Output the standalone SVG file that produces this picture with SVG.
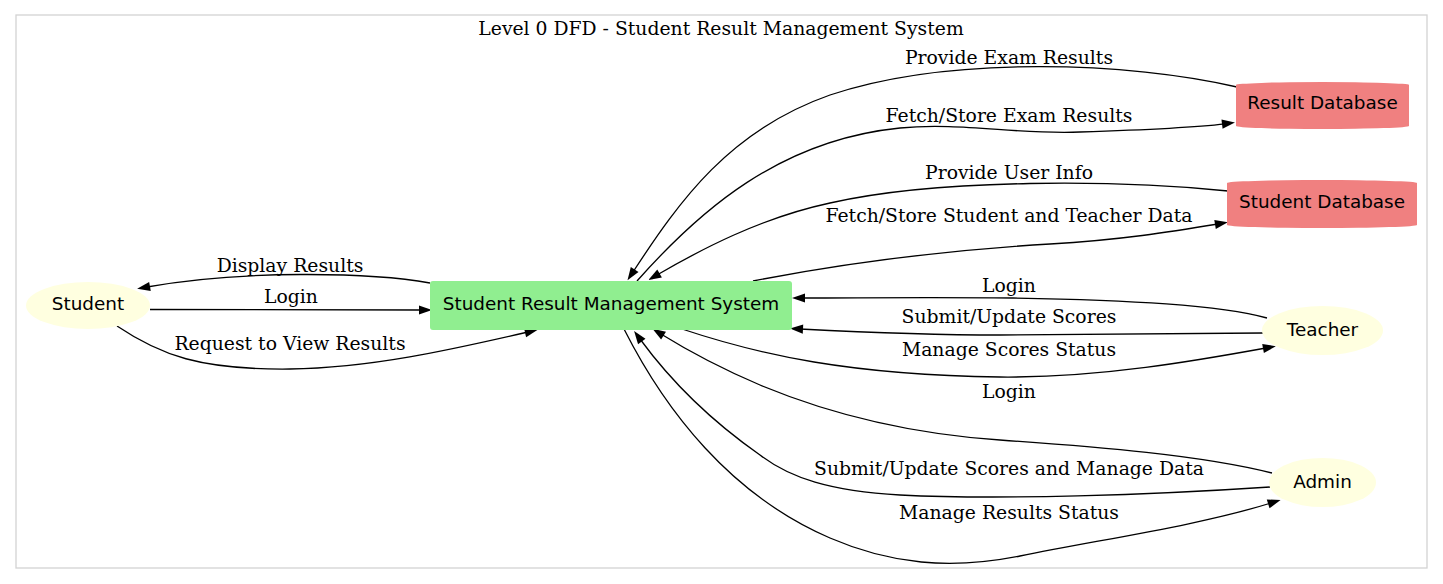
<svg xmlns="http://www.w3.org/2000/svg" width="1443" height="584" viewBox="0 0 1443 584">
<style>
.lbl{font-family:"DejaVu Serif","Liberation Serif",serif;font-size:18.8px;fill:#000;text-anchor:middle}
.ntx{font-family:"DejaVu Sans","Liberation Sans",sans-serif;font-size:18.4px;fill:#000;text-anchor:middle}
.edge{fill:none;stroke:#000;stroke-width:1.3}
.ent{fill:#ffffe0;stroke:none}
.db{fill:#f08080;stroke:none}
.proc{fill:#90ee90;stroke:none}
</style>
<defs>
<marker id="ah" markerUnits="userSpaceOnUse" markerWidth="14" markerHeight="10" refX="3" refY="4.6" orient="auto" overflow="visible">
<path d="M0,0 L13,4.6 L0,9.2 Z" fill="#000"/>
</marker>
</defs>
<rect width="1443" height="584" fill="#fff"/>
<g id="cluster">
<rect x="16" y="15" width="1411" height="553" fill="none" stroke="#d3d3d3" stroke-width="1.3"/>
<text class="lbl" x="721" y="35">Level 0 DFD - Student Result Management System</text>
</g>
<g id="connectors">
<path class="edge" marker-end="url(#ah)" d="M430,283 C370,272 240,270 147,287"/>
<path class="edge" marker-end="url(#ah)" d="M150,309.5 C250,310 350,310 422,310"/>
<path class="edge" marker-end="url(#ah)" d="M117,326 C160,355 200,370 290,369 C370,368 450,350 528,332"/>
<path class="edge" marker-end="url(#ah)" d="M1237,87 C1130,62 950,55 830,95 C730,130 680,200 633,272"/>
<path class="edge" marker-end="url(#ah)" d="M637,281 C700,210 780,140 900,128 C960,122 1020,135 1080,132 C1140,130 1190,128 1225,123.8"/>
<path class="edge" marker-end="url(#ah)" d="M1228,191 C1120,180 940,178 830,203 C760,218 700,250 657,275"/>
<path class="edge" marker-end="url(#ah)" d="M753,281 C850,262 950,250 1050,244 C1120,240 1170,232 1218,224"/>
<path class="edge" marker-end="url(#ah)" d="M1267,318 C1220,305 1130,300 1013,298 C920,297 860,298 802,298"/>
<path class="edge" marker-end="url(#ah)" d="M1263,333 C1150,334 1060,335 1000,335 C920,335 860,332 800,329"/>
<path class="edge" marker-end="url(#ah)" d="M682,329 C760,355 850,375 1000,377 C1100,378 1200,360 1266,348"/>
<path class="edge" marker-end="url(#ah)" d="M1272,473 C1200,455 1100,447 1000,440 C900,433 820,410 760,385 C720,368 690,352 661,334"/>
<path class="edge" marker-end="url(#ah)" d="M1270,487 C1150,495 1000,500 900,495 C830,491 790,478 760,455 C710,420 670,380 640,339"/>
<path class="edge" marker-end="url(#ah)" d="M624,329 C665,410 730,495 830,538 C890,564 950,570 1020,556 C1110,538 1200,525 1271,503"/>
<text class="lbl" x="290" y="272">Display Results</text>
<text class="lbl" x="291" y="303">Login</text>
<text class="lbl" x="290" y="350">Request to View Results</text>
<text class="lbl" x="1009" y="64">Provide Exam Results</text>
<text class="lbl" x="1009" y="122">Fetch/Store Exam Results</text>
<text class="lbl" x="1009" y="179">Provide User Info</text>
<text class="lbl" x="1009" y="222">Fetch/Store Student and Teacher Data</text>
<text class="lbl" x="1009" y="292">Login</text>
<text class="lbl" x="1009" y="323">Submit/Update Scores</text>
<text class="lbl" x="1009" y="356">Manage Scores Status</text>
<text class="lbl" x="1009" y="398">Login</text>
<text class="lbl" x="1009" y="475">Submit/Update Scores and Manage Data</text>
<text class="lbl" x="1009" y="519">Manage Results Status</text>
</g>
<g id="student">
<ellipse class="ent" cx="88" cy="305.5" rx="62" ry="23.5"/>
<text class="ntx" x="88" y="309.5">Student</text>
</g>
<g id="srms">
<rect class="proc" x="430" y="281" width="362" height="49" rx="3" ry="3"/>
<text class="ntx" x="611" y="309.5">Student Result Management System</text>
</g>
<g id="result_db">
<path class="db" d="M1236,85 A86.5,3 0 0 1 1409,85 L1409,126 A86.5,3 0 0 1 1236,126 Z"/>
<text class="ntx" x="1322.5" y="109">Result Database</text>
</g>
<g id="student_db">
<path class="db" d="M1227,183 A95,3 0 0 1 1417,183 L1417,225 A95,3 0 0 1 1227,225 Z"/>
<text class="ntx" x="1322" y="207.5">Student Database</text>
</g>
<g id="teacher">
<ellipse class="ent" cx="1322.5" cy="330.5" rx="60.5" ry="24.5"/>
<text class="ntx" x="1322.5" y="336">Teacher</text>
</g>
<g id="admin">
<ellipse class="ent" cx="1322.5" cy="482.5" rx="53.5" ry="24.5"/>
<text class="ntx" x="1322.5" y="488">Admin</text>
</g>
</svg>
